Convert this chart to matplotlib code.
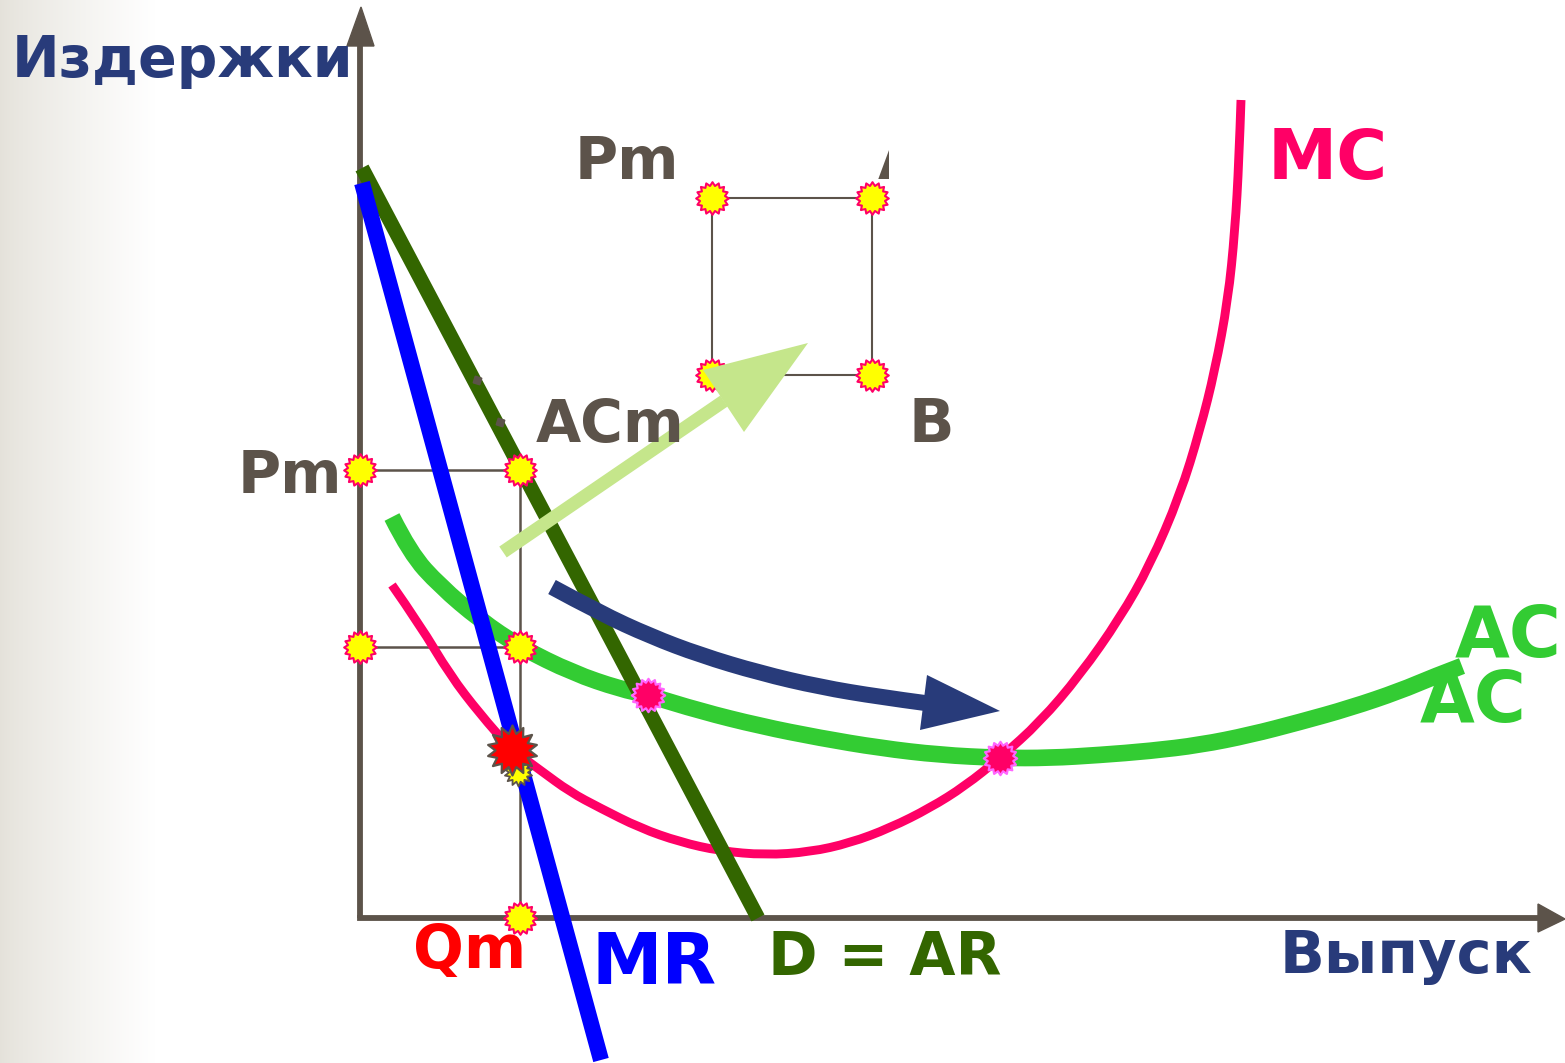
import matplotlib
matplotlib.use("Agg")
import matplotlib.pyplot as plt
import numpy as np
from matplotlib.path import Path
from matplotlib.patches import Rectangle, Polygon, PathPatch
from matplotlib.transforms import Bbox, TransformedBbox

# ---------------- data (chart units: output on x, cost on y) ----------------
mc_q = [32, 60, 90, 120, 150, 180, 210, 240, 280, 320, 360, 405, 450, 490, 530,
        570, 605, 640, 680, 720, 760, 790, 820, 840, 855, 868, 875, 879, 881]
mc_c = [333, 293, 243, 204, 170, 148, 126, 110, 90, 76, 67, 63, 66, 75, 90,
        110, 132, 160, 196, 243, 300, 353, 423, 488, 548, 618, 688, 758, 818]

ac_q = [32, 50, 80, 120, 160, 213, 260, 288, 340, 400, 460, 520, 580, 640, 690,
        740, 790, 840, 890, 940, 990, 1040, 1073, 1102]
ac_c = [401, 365, 332, 298, 271, 245, 229, 223, 207, 192, 180, 170, 163, 160, 160,
        163, 167, 173, 183, 196, 210, 227, 241, 252]

d_q = [2, 398]
d_c = [750, 0]
mr_q = [2, 241]
mr_c = [735, -142]

Qm, Pm, ACm = 160, 448, 271
box_q = [352, 512]
box_c = [543, 720]
mcmr_point = (152, 168)
mcmr_shadow = (158, 146)
cross_points_q = [288, 640]
cross_points_c = [223, 160]
d_ticks_q = [117, 140]
d_ticks_c = [538, 496]

nav_q = [192, 240, 290, 340, 400, 460, 520, 565]
nav_c = [331, 305, 282, 263, 245, 231, 221, 215]
nav_head_q = [567, 640, 560]
nav_head_c = [243, 207, 188]

lg_q = [143, 364]
lg_c = [366, 517]
lg_head_q = [343, 448, 384]
lg_head_c = [548, 575, 486]

x_max, y_max = 1205, 911

labels = [
    ("Издержки", -348, 841, "#283b7a", 41),
    ("Pm", 215, 739, "#5c534a", 42.5),
    ("ACm", 176, 476, "#5c534a", 42),
    ("B", 548, 476, "#5c534a", 43),
    ("Pm", -122, 425, "#5c534a", 42.5),
    ("MC", 908, 739, "#ff0066", 50),
    ("AC", 1095, 261, "#33cc33", 51),
    ("AC", 1060, 196, "#33cc33", 51),
    ("Qm", 53, -50, "#ff0000", 43),
    ("MR", 232, -66, "#0000ff", 51),
    ("D = AR", 408, -57, "#336600", 43),
    ("Выпуск", 920, -55, "#283b7a", 42.5),
]


def smooth(q, c):
    """Quadratic B-spline path using the read points as control points."""
    p = np.column_stack([q, c]).astype(float)
    verts = [p[0]]
    codes = [Path.MOVETO]
    n = len(p)
    for i in range(1, n - 1):
        end = (p[i] + p[i + 1]) / 2 if i < n - 2 else p[n - 1]
        verts += [p[i], end]
        codes += [Path.CURVE3, Path.CURVE3]
    return Path(verts, codes)


# ---------------- figure ----------------
fig = plt.figure(figsize=(15.65, 10.63), dpi=100)
ax = fig.add_axes([0, 0, 1, 1])
ax.set_xlim(-360, 1205)
ax.set_ylim(-145, 918)
ax.axis("off")

# left background gradient
grad = np.linspace(0, 1, 256)
g = grad ** 0.8
c0 = np.array([0.895, 0.885, 0.855])
img = c0[None, :] * (1 - g[:, None]) + g[:, None]
ax.imshow(img[None, :, :], extent=(-360, -205, -145, 918), aspect="auto",
          zorder=0, interpolation="bilinear")

axis_col = "#5c534a"
# axes
ax.plot([0, 0], [0, y_max - 38], color=axis_col, lw=4.2, solid_capstyle="butt", zorder=1)
ax.plot([0, x_max - 27], [0, 0], color=axis_col, lw=4.2, solid_capstyle="projecting", zorder=1)
ax.add_patch(Polygon([(-13, y_max - 39), (14, y_max - 39), (1, y_max)],
                     closed=True, color=axis_col, zorder=1))
ax.add_patch(Polygon([(x_max - 27, -14), (x_max - 27, 14), (x_max, -1)],
                     closed=True, color=axis_col, zorder=1))

# guide lines
ax.plot([0, Qm, Qm], [Pm, Pm, 0], color=axis_col, lw=1.8, zorder=1)
ax.plot([0, Qm], [ACm, ACm], color=axis_col, lw=1.8, zorder=1)
ax.add_patch(Rectangle((box_q[0], box_c[0]), box_q[1] - box_q[0], box_c[1] - box_c[0],
                       fill=False, edgecolor=axis_col, lw=1.5, zorder=1))

# curves
ax.add_patch(PathPatch(smooth(ac_q, ac_c), fill=False, edgecolor="#33cc33", lw=12,
                       capstyle="butt", joinstyle="round", zorder=2))
ax.add_patch(PathPatch(smooth(mc_q, mc_c), fill=False, edgecolor="#ff0066", lw=6.4,
                       capstyle="butt", joinstyle="round", zorder=3))

star16 = Path.unit_regular_star(16, 0.78)
star14 = Path.unit_regular_star(14, 0.68)

# box markers (under the light-green arrow)
bq = [box_q[0], box_q[1], box_q[0], box_q[1]]
bc = [box_c[1], box_c[1], box_c[0], box_c[0]]
ax.plot(bq, bc, ls="none", marker=star16, ms=23.5, mfc="#ffff00", mec="#ff0066", mew=1.5, zorder=4)

# demand line
ax.plot(d_q, d_c, color="#336600", lw=10.5, solid_capstyle="butt", zorder=5)
ax.plot(d_ticks_q, d_ticks_c, ls="none", marker=(4, 0, 28), ms=7, color=axis_col, zorder=5)

# light green arrow (drawn over D)
ax.plot(lg_q, lg_c, color="#c5e68b", lw=9.5, solid_capstyle="butt", zorder=6)
ax.fill(lg_head_q, lg_head_c, color="#c5e68b", lw=0, zorder=6)

# MR
ax.plot(mr_q, mr_c, color="#0000ff", lw=11.5, solid_capstyle="butt", zorder=7)

# navy arrow
ax.add_patch(PathPatch(smooth(nav_q, nav_c), fill=False, edgecolor="#283b7a", lw=11.5,
                       capstyle="butt", joinstyle="round", zorder=8))
ax.fill(nav_head_q, nav_head_c, color="#283b7a", lw=0, zorder=8)

# markers
pq = [0, Qm, 0, Qm, Qm]
pc = [Pm, Pm, ACm, ACm, 0]
ax.plot(pq, pc, ls="none", marker=star16, ms=23.5, mfc="#ffff00", mec="#ff0066", mew=1.5, zorder=9)
ax.plot(cross_points_q, cross_points_c, ls="none", marker=star16, ms=24,
        mfc="#ff0066", mec="#ff66ff", mew=1.6, zorder=9)
ax.plot([mcmr_shadow[0]], [mcmr_shadow[1]], ls="none", marker=star14, ms=20,
        mfc="#ffff00", mec=axis_col, mew=1.3, zorder=9)
ax.plot([mcmr_point[0]], [mcmr_point[1]], ls="none", marker=star14, ms=36,
        mfc="#ff0000", mec=axis_col, mew=1.6, zorder=10)

# labels
for txt, x, y, col, fs in labels:
    ax.text(x, y, txt, color=col, fontsize=fs, fontweight="bold", family="DejaVu Sans",
            ha="left", va="baseline", zorder=11)

# clipped glyph at the top-right corner of the box
t = ax.text(518, 739, "A", color="#5c534a", fontsize=42.5, fontweight="bold",
            family="DejaVu Sans", ha="left", va="baseline", zorder=11)
t.set_clip_on(True)
t.set_clip_box(TransformedBbox(Bbox([[400, 700], [529, 800]]), ax.transData))

fig.savefig("out.png", dpi=100)
